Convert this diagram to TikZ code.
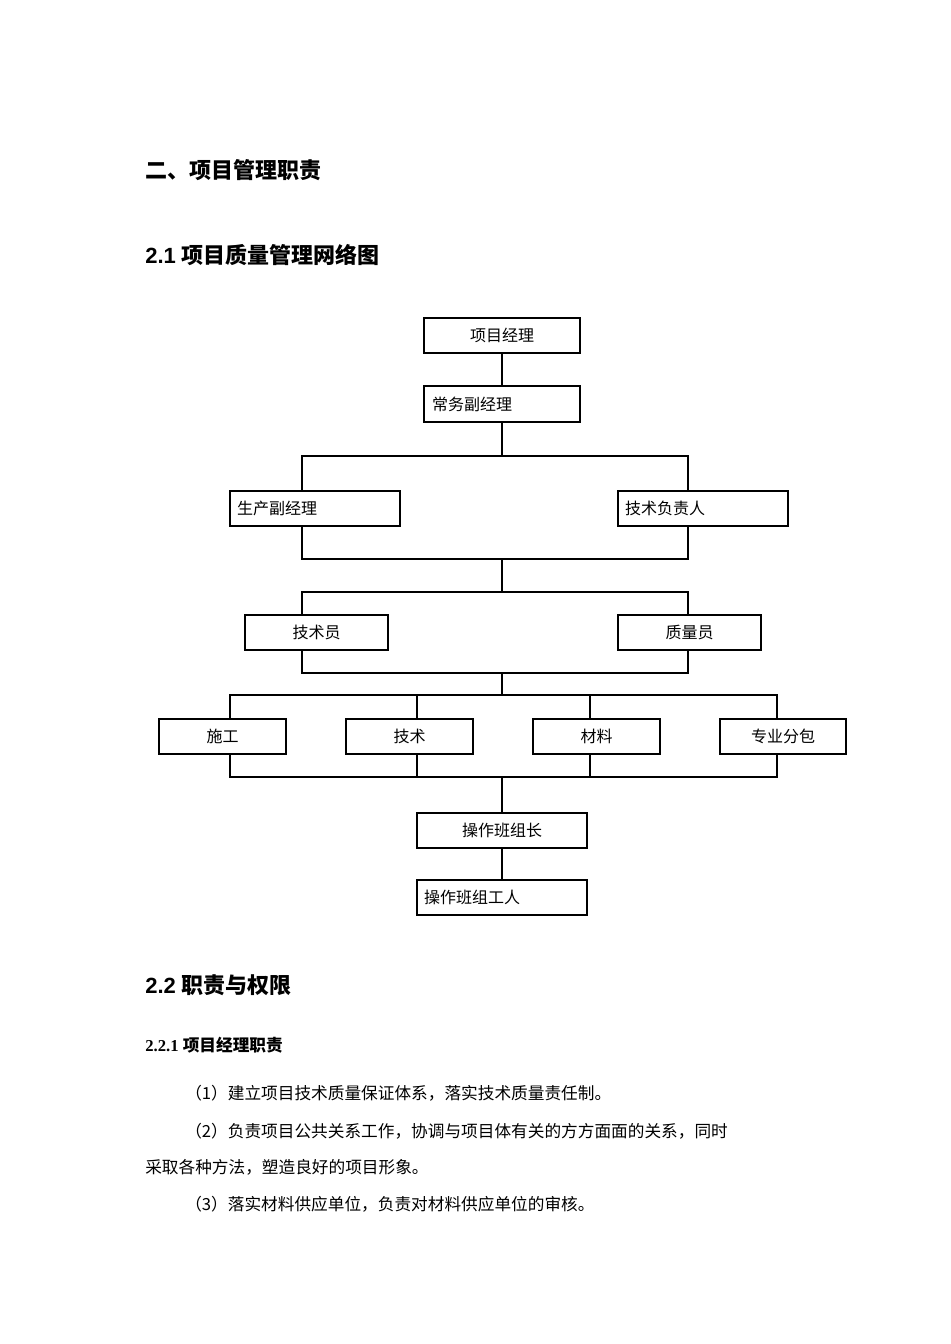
\documentclass[tikz,border=0pt]{standalone}
\usepackage{fontspec}
\setmainfont{Liberation Serif}
\newfontfamily\cjk{Noto Sans CJK SC}
\newfontfamily\lat{Liberation Sans}
\begin{document}
\begin{tikzpicture}[x=0.75pt,y=-0.75pt,
 bx/.style={draw,line width=1.5pt,minimum height=26.5pt,inner sep=0pt,font=\cjk\fontsize{12}{14}\selectfont},
 ln/.style={line width=1.5pt},
 hd/.style={anchor=west,inner sep=0pt,font=\cjk\bfseries\fontsize{16.5}{19}\selectfont},
 pa/.style={anchor=west,inner sep=0pt,font=\cjk\fontsize{12.5}{15}\selectfont}]
\useasboundingbox[fill=white] (0,0) rectangle (950,1344);
\node[hd] (h1) at (145,170) {二、项目管理职责};
\node[hd] (h2) at (145,255) {{\lat\bfseries 2.1 }项目质量管理网络图};
\node[hd] (h3) at (145,985) {{\lat\bfseries 2.2 }职责与权限};
\node[hd,font=\cjk\bfseries\fontsize{12.5}{15}\selectfont] (h4) at (145,1045) {{\rmfamily\bfseries 2.2.1 }项目经理职责};
\node[pa] (p1) at (185,1093) {（1）建立项目技术质量保证体系，落实技术质量责任制。};
\node[pa] (p2) at (185,1131) {（2）负责项目公共关系工作，协调与项目体有关的方方面面的关系，同时};
\node[pa] (p3) at (145,1167) {采取各种方法，塑造良好的项目形象。};
\node[pa] (p4) at (185,1204) {（3）落实材料供应单位，负责对材料供应单位的审核。};
% boxes
\node[bx,minimum width=117pt] (a) at (502,335.5) {项目经理};
\node[bx,minimum width=117pt,text width=105pt,align=left] (b) at (502,404) {常务副经理};
\node[bx,minimum width=127.5pt,text width=117pt,align=left] (c) at (315,508.5) {生产副经理};
\node[bx,minimum width=127.5pt,text width=117pt,align=left] (d) at (703,508.5) {技术负责人};
\node[bx,minimum width=107pt] (e) at (316.5,632.5) {技术员};
\node[bx,minimum width=107pt] (f) at (689.5,632.5) {质量员};
\node[bx,minimum width=95pt] (g1) at (222.5,736.5) {施工};
\node[bx,minimum width=95pt] (g2) at (409.5,736.5) {技术};
\node[bx,minimum width=95pt] (g3) at (596.5,736.5) {材料};
\node[bx,minimum width=95pt] (g4) at (783,736.5) {专业分包};
\node[bx,minimum width=127.5pt] (i) at (502,830.5) {操作班组长};
\node[bx,minimum width=127.5pt,text width=117pt,align=left] (j) at (502,897.5) {操作班组工人};
% connectors
\draw[ln] (a) -- (b);
\draw[ln] (b) -- (502,456);
\draw[ln] (c.north -| 302,0) |- (688,456) -- (d.north -| 688,0);
\draw[ln] (c.south -| 302,0) |- (688,559) -- (d.south -| 688,0);
\draw[ln] (502,559) -- (502,592);
\draw[ln] (e.north -| 302,0) |- (688,592) -- (f.north -| 688,0);
\draw[ln] (e.south -| 302,0) |- (688,673) -- (f.south -| 688,0);
\draw[ln] (502,673) -- (502,695);
\draw[ln] (g1.north -| 230,0) |- (777,695) -- (g4.north -| 777,0);
\draw[ln] (g2.north -| 417,0) -- (417,695);
\draw[ln] (g3.north -| 590,0) -- (590,695);
\draw[ln] (g1.south -| 230,0) |- (777,777) -- (g4.south -| 777,0);
\draw[ln] (g2.south -| 417,0) -- (417,777);
\draw[ln] (g3.south -| 590,0) -- (590,777);
\draw[ln] (502,777) -- (i);
\draw[ln] (i) -- (j);
\end{tikzpicture}
\end{document}
